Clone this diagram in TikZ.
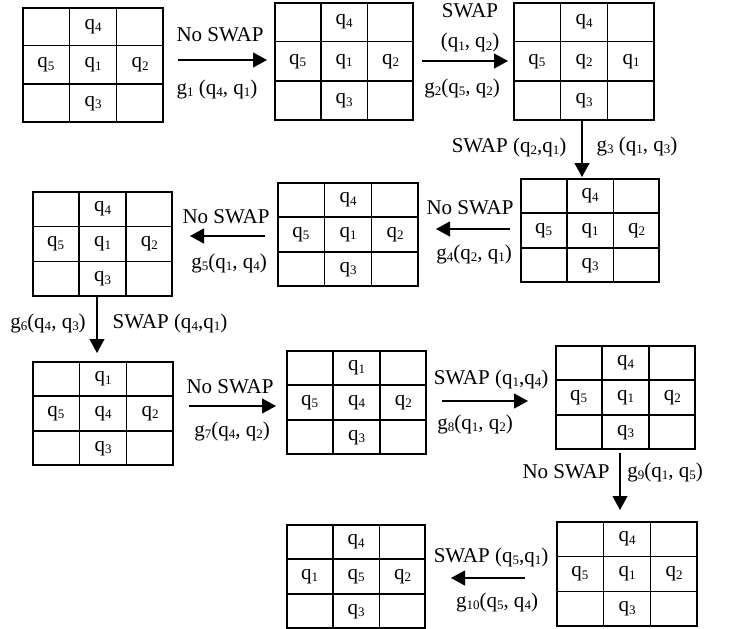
\documentclass[tikz,border=0pt]{standalone}
\usepackage{fontspec}
\setmainfont{Liberation Serif}
\usetikzlibrary{arrows.meta,calc}
\newcommand\sbx[1]{\raisebox{-2.6pt}{\fontsize{13}{13}\selectfont #1}}
\newcommand\qq[1]{q\sbx{#1}}
\newcommand\gq[1]{g\sbx{#1}}
\tikzset{
  gridbox/.style={draw, line width=1.5pt, inner sep=0pt, rectangle},
  gridline/.style={line width=1.5pt},
  cell/.style={inner sep=0pt, font=\fontsize{21}{25}\selectfont},
  lab/.style={inner sep=0pt, font=\fontsize{21}{30}\selectfont, align=center},
  arr/.style={line width=1.1pt, -{Triangle[length=14pt,width=15pt]}}
}
% name, x0, y0, x1, y1, top, left, mid, right (bottom is q3)
\newcommand\qgrid[9]{%
  \node[gridbox, minimum width={#4-#2}, minimum height={#5-#3}] (#1) at ({(#2+#4)/2},{(#3+#5)/2}) {};
  \draw[gridline] ($(#1.north west)!1/3!(#1.north east)$) -- ($(#1.south west)!1/3!(#1.south east)$);
  \draw[gridline] ($(#1.north west)!2/3!(#1.north east)$) -- ($(#1.south west)!2/3!(#1.south east)$);
  \draw[gridline] ($(#1.north west)!1/3!(#1.south west)$) -- ($(#1.north east)!1/3!(#1.south east)$);
  \draw[gridline] ($(#1.north west)!2/3!(#1.south west)$) -- ($(#1.north east)!2/3!(#1.south east)$);
  \node[cell] (#1t) at ($(#1.north)!1/6!(#1.south)$) {\qq{#6}};
  \node[cell] (#1l) at ($(#1.west)!1/6!(#1.east)$) {\qq{#7}};
  \node[cell] (#1c) at (#1.center) {\qq{#8}};
  \node[cell] (#1r) at ($(#1.east)!1/6!(#1.west)$) {\qq{#9}};
  \node[cell] (#1b) at ($(#1.south)!1/6!(#1.north)$) {\qq{3}};
}
\begin{document}
\begin{tikzpicture}[x=1pt,y=-1pt]
\useasboundingbox (0,0) rectangle (729,629);
\qgrid{G1}{23}{8}{163}{122}{4}{5}{1}{2}
\qgrid{G2}{275}{3}{413}{120}{4}{5}{1}{2}
\qgrid{G3}{514}{3}{654}{120}{4}{5}{2}{1}
\qgrid{G4}{521}{179}{659}{282}{4}{5}{1}{2}
\qgrid{G5}{278}{183}{418}{286}{4}{5}{1}{2}
\qgrid{G6}{33}{192}{172}{296}{4}{5}{1}{2}
\qgrid{G7}{33}{362}{173}{465}{1}{5}{4}{2}
\qgrid{G8}{287}{351}{426}{454}{1}{5}{4}{2}
\qgrid{G9}{556}{346}{695}{449}{4}{5}{1}{2}
\qgrid{G10}{557}{522}{697}{626}{4}{5}{1}{2}
\qgrid{G11}{287}{525}{425}{628}{4}{1}{5}{2}

% arrow end points
\coordinate (a1s) at (178,60);  \coordinate (a1e) at (267,60);
\coordinate (a2s) at (422,61);  \coordinate (a2e) at (508,61);
\coordinate (a3s) at (582,120); \coordinate (a3e) at (582,177);
\coordinate (a4s) at (510,229); \coordinate (a4e) at (436,229);
\coordinate (a5s) at (265,236); \coordinate (a5e) at (190,236);
\coordinate (a6s) at (97,297);  \coordinate (a6e) at (97,353);
\coordinate (a7s) at (189,406); \coordinate (a7e) at (276,406);
\coordinate (a8s) at (442,401); \coordinate (a8e) at (528,401);
\coordinate (a9s) at (620,453); \coordinate (a9e) at (620,510);
\coordinate (a10s) at (525,578); \coordinate (a10e) at (451,578);

\draw[arr] (a1s) -- (a1e);
\draw[arr] (a2s) -- (a2e);
\draw[arr] (a3s) -- (a3e);
\draw[arr] (a4s) -- (a4e);
\draw[arr] (a5s) -- (a5e);
\draw[arr] (a6s) -- (a6e);
\draw[arr] (a7s) -- (a7e);
\draw[arr] (a8s) -- (a8e);
\draw[arr] (a9s) -- (a9e);
\draw[arr] (a10s) -- (a10e);

% labels
\node[lab] (l1a) at (220,35) {No SWAP};
\node[lab] (l1b) at (217,89) {\gq{1} (\qq{4}, \qq{1})};
\node[lab] (l2a) at (470,28) {SWAP\\(\qq{1}, \qq{2})};
\node[lab] (l2b) at (462,88) {\gq{2}(\qq{5}, \qq{2})};
\node[lab] (l3a) at (509,147) {SWAP (\qq{2},\qq{1})};
\node[lab] (l3b) at (637,146) {\gq{3} (\qq{1}, \qq{3})};
\node[lab] (l4a) at (470,208) {No SWAP};
\node[lab] (l4b) at (474,254) {\gq{4}(\qq{2}, \qq{1})};
\node[lab] (l5a) at (226,217) {No SWAP};
\node[lab] (l5b) at (229,263) {\gq{5}(\qq{1}, \qq{4})};
\node[lab] (l6a) at (48,323) {\gq{6}(\qq{4}, \qq{3})};
\node[lab] (l6b) at (170,323) {SWAP (\qq{4},\qq{1})};
\node[lab] (l7a) at (230,387) {No SWAP};
\node[lab] (l7b) at (232,431) {\gq{7}(\qq{4}, \qq{2})};
\node[lab] (l8a) at (491,379) {SWAP (\qq{1},\qq{4})};
\node[lab] (l8b) at (475,424) {\gq{8}(\qq{1}, \qq{2})};
\node[lab] (l9a) at (566,472) {No SWAP};
\node[lab] (l9b) at (665,472) {\gq{9}(\qq{1}, \qq{5})};
\node[lab] (l10a) at (491,557) {SWAP (\qq{5},\qq{1})};
\node[lab] (l10b) at (497,602) {\gq{10}(\qq{5}, \qq{4})};
\end{tikzpicture}
\end{document}
